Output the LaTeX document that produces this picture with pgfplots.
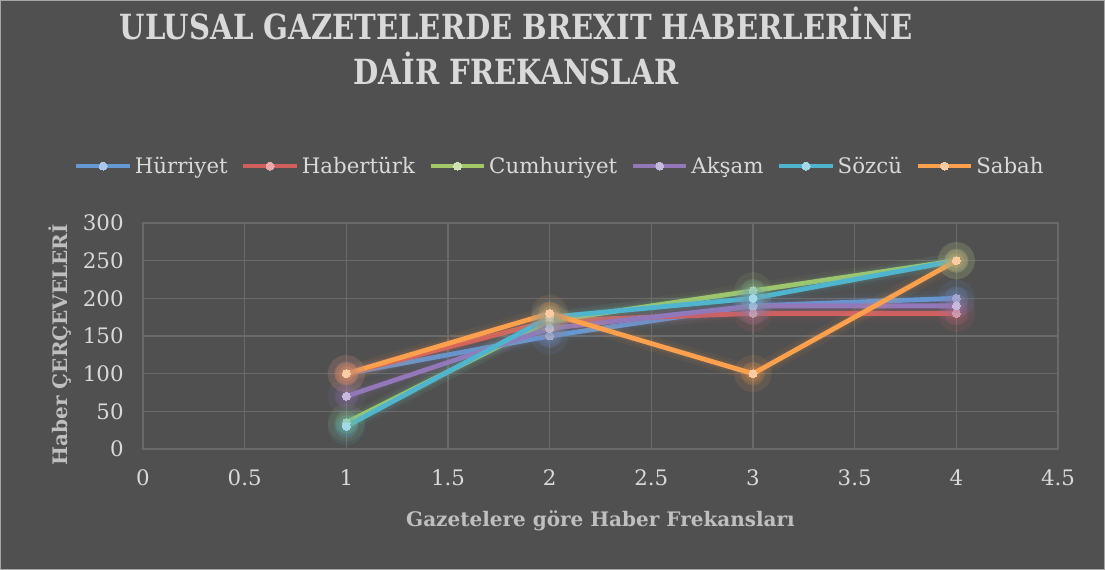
\documentclass[border=0pt]{standalone}
\usepackage{pgfplots}
\pgfplotsset{compat=1.18}
\usepackage{fontspec}
\setmainfont{DejaVu Serif}
\definecolor{bg}{HTML}{505050}
\definecolor{gridc}{HTML}{6A6A6A}
\definecolor{txt}{HTML}{D9D9D9}
\definecolor{lbl}{HTML}{BFBFBF}
\definecolor{cA}{HTML}{6499D2}\definecolor{mA}{HTML}{A9C8EA}
\definecolor{cB}{HTML}{D0605E}\definecolor{mB}{HTML}{EAA9A8}
\definecolor{cC}{HTML}{A2C86A}\definecolor{mC}{HTML}{D0E3B3}
\definecolor{cD}{HTML}{9278B8}\definecolor{mD}{HTML}{C7B9DC}
\definecolor{cE}{HTML}{4FB5CF}\definecolor{mE}{HTML}{A5D8E6}
\definecolor{cF}{HTML}{FCA04E}\definecolor{mF}{HTML}{FBCBA3}
\pgfplotstableread{
x Hurriyet Haberturk Cumhuriyet Aksam Sozcu Sabah
1 100 100 35 70 30 100
2 150 170 170 160 175 180
3 190 180 210 190 200 100
4 200 180 250 190 250 250
}\data
\pgfplotsset{
  glowA/.style={forget plot, line width=12pt, opacity=0.06, mark=*, mark size=8pt, mark options={draw=none, opacity=0.10}},
  glowB/.style={forget plot, line width=7pt, opacity=0.08, mark=*, mark size=5.5pt, mark options={draw=none, opacity=0.14}},
  ser/.style 2 args={line width=3.6pt, color=#1, mark=*, mark size=3pt, mark options={fill=#2, draw=#2, line width=0pt}},
}
\begin{document}
\begin{tikzpicture}
\useasboundingbox (0,0) rectangle (828.75pt,427.5pt);
\fill[bg] (0,0) rectangle (828.75pt,427.5pt);
\draw[gray!70, line width=0.8pt] (0.4pt,0.4pt) rectangle (828.35pt,427.1pt);
\node[text=txt, inner sep=0pt] at (387pt,388.5pt) {\scalebox{0.84}[1]{\fontsize{26}{30}\selectfont\bfseries\begin{tabular}{@{}c@{}}ULUSAL GAZETELERDE BREXIT HABERLERİNE\\DAİR FREKANSLAR\end{tabular}}};
\begin{axis}[
  at={(107.25pt,90.75pt)}, anchor=south west,
  scale only axis, width=686.25pt, height=169.5pt,
  xmin=0, xmax=4.5, ymin=0, ymax=300,
  xtick={0,0.5,...,4.5}, ytick={0,50,...,300},
  xticklabels={0,0.5,1,1.5,2,2.5,3,3.5,4,4.5},
  major tick length=0pt,
  grid=major, grid style={gridc, line width=0.9pt},
  axis line style={draw=gridc, line width=0.9pt},
  ticklabel style={font=\fontsize{16}{18}\selectfont, text=txt},
  /pgf/number format/assume math mode=true,
  xticklabel style={yshift=-12pt},
  yticklabel style={xshift=-11pt},
  xlabel={Gazetelere göre Haber Frekansları},
  ylabel={Haber ÇERÇEVELERİ},
  label style={font=\bfseries\fontsize{15}{17}\selectfont, text=lbl},
  xlabel style={at={(axis description cs:0.5,-0.319)}, anchor=center},
  ylabel style={at={(axis description cs:-0.091,0.462)}, anchor=center},
  legend columns=6,
  legend style={at={(0.456,1.252)}, anchor=center, draw=none, fill=none,
    font=\fontsize{16}{18}\selectfont, text=txt,
    /tikz/every even column/.append style={column sep=8pt}},
  legend image code/.code={
    \draw[#1, mark=none] (0pt,0pt) -- (40pt,0pt);
    \draw[#1] plot coordinates {(20pt,0pt)};
  },
]
\addplot[glowA, color=cA] table[x=x, y=Hurriyet] {\data};
\addplot[glowB, color=cA] table[x=x, y=Hurriyet] {\data};
\addplot[ser={cA}{mA}] table[x=x, y=Hurriyet] {\data};
\addlegendentry{Hürriyet}
\addplot[glowA, color=cB] table[x=x, y=Haberturk] {\data};
\addplot[glowB, color=cB] table[x=x, y=Haberturk] {\data};
\addplot[ser={cB}{mB}] table[x=x, y=Haberturk] {\data};
\addlegendentry{Habertürk}
\addplot[glowA, color=cC] table[x=x, y=Cumhuriyet] {\data};
\addplot[glowB, color=cC] table[x=x, y=Cumhuriyet] {\data};
\addplot[ser={cC}{mC}] table[x=x, y=Cumhuriyet] {\data};
\addlegendentry{Cumhuriyet}
\addplot[glowA, color=cD] table[x=x, y=Aksam] {\data};
\addplot[glowB, color=cD] table[x=x, y=Aksam] {\data};
\addplot[ser={cD}{mD}] table[x=x, y=Aksam] {\data};
\addlegendentry{Akşam}
\addplot[glowA, color=cE] table[x=x, y=Sozcu] {\data};
\addplot[glowB, color=cE] table[x=x, y=Sozcu] {\data};
\addplot[ser={cE}{mE}] table[x=x, y=Sozcu] {\data};
\addlegendentry{Sözcü}
\addplot[glowA, color=cF] table[x=x, y=Sabah] {\data};
\addplot[glowB, color=cF] table[x=x, y=Sabah] {\data};
\addplot[ser={cF}{mF}] table[x=x, y=Sabah] {\data};
\addlegendentry{Sabah}
\end{axis}
\end{tikzpicture}
\end{document}
